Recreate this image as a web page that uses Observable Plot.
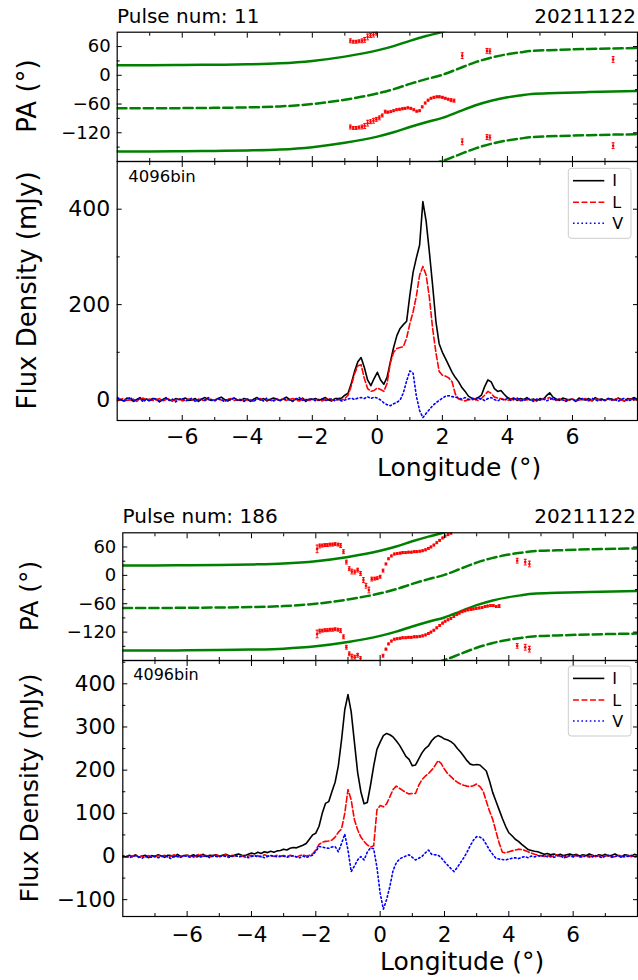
<!DOCTYPE html>
<html><head><meta charset="utf-8">
<script src="https://cdn.jsdelivr.net/npm/d3@7"></script>
<script src="https://cdn.jsdelivr.net/npm/@observablehq/plot@0.6"></script>
<style>
body{margin:0;background:#fff;}
#wrap{position:relative;width:638px;height:980px;overflow:hidden;background:#fff;font-family:"DejaVu Sans",sans-serif;}
#wrap > svg{position:absolute;left:0;}
</style></head><body><div id="wrap"></div>
<script>
// ---------------- data ----------------
const longitude = [
-8,-7.9,-7.8,-7.7,-7.6,-7.5,-7.4,-7.3,-7.2,-7.1,
-7,-6.9,-6.8,-6.7,-6.6,-6.5,-6.4,-6.3,-6.2,-6.1,
-6,-5.9,-5.8,-5.7,-5.6,-5.5,-5.4,-5.3,-5.2,-5.1,
-5,-4.9,-4.8,-4.7,-4.6,-4.5,-4.4,-4.3,-4.2,-4.1,
-4,-3.9,-3.8,-3.7,-3.6,-3.5,-3.4,-3.3,-3.2,-3.1,
-3,-2.9,-2.8,-2.7,-2.6,-2.5,-2.4,-2.3,-2.2,-2.1,
-2,-1.9,-1.8,-1.7,-1.6,-1.5,-1.4,-1.3,-1.2,-1.1,
-1,-0.9,-0.8,-0.7,-0.6,-0.5,-0.4,-0.3,-0.2,-0.1,
0,0.1,0.2,0.3,0.4,0.5,0.6,0.7,0.8,0.9,
1,1.1,1.2,1.3,1.4,1.5,1.6,1.7,1.8,1.9,
2,2.1,2.2,2.3,2.4,2.5,2.6,2.7,2.8,2.9,
3,3.1,3.2,3.3,3.4,3.5,3.6,3.7,3.8,3.9,
4,4.1,4.2,4.3,4.4,4.5,4.6,4.7,4.8,4.9,
5,5.1,5.2,5.3,5.4,5.5,5.6,5.7,5.8,5.9,
6,6.1,6.2,6.3,6.4,6.5,6.6,6.7,6.8,6.9,
7,7.1,7.2,7.3,7.4,7.5,7.6,7.7,7.8,7.9,
8];

// Pulse 11 profiles (mJy)
const p11_I = [
3,1,-2,4,2,-3,1,5,0,2,
-1,3,2,-4,1,4,0,-2,3,1,
2,4,-1,0,3,-3,2,5,1,-1,
0,3,6,1,-2,2,4,0,-1,3,
1,-3,2,5,0,3,-2,1,4,2,
-1,2,6,1,-2,3,0,4,-3,2,
1,3,-1,2,5,0,-2,3,3,4,
10,14,35,60,80,89,68,42,30,45,
58,42,33,48,80,110,135,150,158,165,
220,268,298,325,416,375,310,240,165,118,
100,86,72,58,47,38,26,18,8,4,
2,5,10,28,42,38,24,18,20,12,
5,2,4,-1,3,1,5,0,2,-2,
3,1,9,15,6,2,-1,4,2,0,
2,-3,4,1,0,3,-2,5,1,2,
-1,3,2,0,4,1,-2,3,2,5,
1];
const p11_L = [
-2,1,3,-1,0,2,-3,1,4,0,
2,-1,0,3,-2,1,2,-1,0,3,
-2,0,2,1,-3,2,0,-1,3,1,
-1,2,0,-2,1,3,-1,0,2,-2,
1,0,-2,2,3,-1,1,0,-3,2,
0,2,-1,1,3,0,-2,2,1,-1,
2,0,1,-2,1,3,0,-1,1,0,
3,10,30,55,72,74,45,24,18,20,
25,22,18,35,78,100,108,110,112,130,
160,185,218,262,280,262,215,150,100,60,
52,50,46,38,12,2,0,-2,1,0,
2,-1,3,10,18,14,6,4,3,1,
-1,2,0,3,-2,1,0,2,-1,1,
0,2,3,5,1,-1,2,0,-2,1,
2,-1,0,1,3,-2,0,2,1,-1,
0,2,-1,1,3,0,-2,1,2,0,
1];
const p11_V = [
5,2,-3,1,6,-2,0,3,-4,2,
-3,4,1,-2,0,5,-1,2,-4,1,
3,-2,0,4,-3,1,2,-1,5,0,
-2,3,1,-4,2,0,4,-1,1,-3,
2,0,-3,3,1,-2,4,0,-1,2,
-2,3,1,0,-3,2,5,-1,1,0,
3,-2,1,2,-1,0,3,-2,2,-2,
0,2,4,1,4,5,3,7,3,6,
4,0,-6,-10,-12,-8,-5,0,15,40,
61,56,8,-22,-37,-28,-20,-12,-6,-1,
4,8,9,7,6,4,2,5,1,3,
0,4,2,-1,3,5,1,-2,2,0,
3,-1,2,4,0,-2,3,1,-3,2,
0,3,-2,1,4,-1,2,0,-3,1,
2,-2,0,3,1,-1,4,0,-2,2,
-1,3,0,2,-3,1,4,-2,0,3,
1];

// Pulse 186 profiles (mJy)
const p186_I = [
2,-1,3,0,4,-2,1,3,-3,2,
0,4,1,-2,3,2,-1,5,0,2,
3,1,4,-1,2,5,0,3,2,4,
1,3,5,2,0,4,6,3,2,5,
8,6,10,7,11,9,12,10,13,14,
17,15,19,21,20,23,26,30,40,50,
54,70,100,123,127,150,172,210,270,340,
375,335,265,195,150,122,125,165,210,248,
265,280,285,282,277,268,258,245,232,225,
210,212,226,240,250,256,268,276,280,277,
272,270,266,260,250,242,232,222,214,212,
213,212,205,198,175,148,128,108,88,70,
55,48,40,35,28,22,16,14,12,11,
8,5,7,4,6,3,5,2,4,6,
3,5,1,4,2,6,3,0,4,2,
5,1,3,6,2,-1,4,3,0,5,
3];
const p186_L = [
1,-2,2,0,3,-1,1,-3,2,0,
-1,2,0,3,-2,1,4,0,-1,2,
3,1,-2,2,6,0,3,-1,2,4,
0,2,4,-1,3,1,0,2,-2,1,
3,0,2,-1,4,1,2,0,3,1,
2,0,3,1,-1,2,4,1,3,6,
15,28,33,35,36,38,45,56,64,100,
155,131,85,62,45,35,27,22,25,108,
118,115,122,138,155,163,158,153,148,145,
146,146,165,178,186,192,200,210,222,215,
202,192,185,178,172,168,165,163,162,164,
168,162,152,128,105,86,58,31,10,8,
11,13,15,17,16,14,11,8,5,3,
2,0,3,-1,2,4,0,1,-2,2,
0,3,-1,2,1,-2,3,0,2,-1,
1,2,-2,0,3,1,-1,2,0,1,
2];
const p186_V = [
-2,1,-3,0,2,-1,-4,1,0,-2,
1,-3,0,2,-1,-5,1,0,-2,2,
0,-2,1,3,-1,0,2,-3,1,0,
-1,2,0,-2,1,3,-1,0,2,-3,
0,2,-1,1,-3,0,2,1,-1,0,
1,-2,0,2,-1,-3,1,-2,0,3,
12,23,22,20,19,22,23,11,30,52,
15,-35,-22,-8,0,-8,10,20,18,-25,
-85,-122,-100,-70,-33,-15,-6,-2,1,4,
-2,-8,-4,0,8,15,5,4,3,-3,
-12,-20,-28,-35,-25,-14,-3,10,25,38,
46,45,40,28,15,5,-4,-6,-7,-8,
-6,-4,-3,-5,-2,0,-3,1,-1,2,
0,3,-1,2,-2,1,3,-4,0,2,
-1,2,0,-2,3,1,-1,2,0,-3,
1,3,-1,0,2,-2,1,0,3,-1,
0];

// RVM-style PA model curves (deg)
const rvmLon     = [-8,-7,-6,-5,-4,-3,-2,-1,0,0.5,1,1.5,2,2.5,3,3.5,4,4.4,4.75,5.5,6.5,8];
const rvmSolidA  = [21,21,21.5,22,23,25,30,39,52,61,72,82,91,104,117,127,134,138,141,143,145,147];
const rvmDashedA = [-69,-69,-68.5,-68,-67,-65,-60,-51,-38,-29,-18,-8,1,14,27,37,44,48,51,53,55,57];
const rvmSolidB  = [-159,-159,-158.5,-158,-157,-155,-150,-141,-128,-119,-108,-98,-89,-76,-63,-53,-46,-42,-39,-37,-35,-33];
const rvmDashedB = [-249,-249,-248.5,-248,-247,-245,-240,-231,-218,-209,-198,-188,-179,-166,-153,-143,-136,-132,-129,-127,-125,-123];

// Measured PA (deg) with errors
const p11_paLon = [-0.83,-0.74,-0.65,-0.56,-0.47,-0.39,-0.30,-0.21,-0.12,-0.03,0.06,0.15,0.24,0.32,0.41,0.50,0.59,0.68,0.77,0.85,0.94,1.03,1.12,1.21,1.30,1.38,1.47,1.56,1.65,1.74,1.83,1.91,2.00,2.09,2.18,2.27,2.36,2.61,3.37,3.46,7.25];
const p11_paVal = [-108,-110,-110,-109,-108,-106,-100,-97,-95,-92,-89,-84,-76,-77,-76,-74,-72,-71,-70,-69,-68,-69,-72,-75,-74,-66,-58,-52,-48,-46,-45,-45,-46,-48,-50,-52,-53,41,51,50,33];
const p11_paErr = [4,3,3,3,4,5,6,4,5,4,4,3,3,2,2,2,2,2,2,2,2,2,2,2,2,2,2,2,2,2,2,2,2,2,2,3,3,6,5,5,6];

const p186_paLon = [-1.96,-1.88,-1.80,-1.72,-1.64,-1.56,-1.48,-1.40,-1.31,-1.23,-1.14,-1.05,-0.96,-0.88,-0.79,-0.70,-0.61,-0.52,-0.44,-0.35,-0.26,-0.17,-0.09,0.00,0.09,0.18,0.26,0.35,0.44,0.53,0.62,0.70,0.79,0.88,0.97,1.06,1.14,1.23,1.32,1.41,1.50,1.58,1.67,1.76,1.85,1.94,2.02,2.11,2.20,2.29,2.38,2.46,2.55,2.64,2.73,2.82,2.90,2.99,3.08,3.17,3.26,3.34,3.43,3.52,3.61,3.70,4.26,4.51,4.64];
const p186_paVal = [56,62,63,64,64,65,65,66,65,63,50,28,14,8,7,11,4,-10,-22,-31,-8,-7,-6,-3,10,24,35,41,45,46,47,48,48,49,49,50,50,51,52,54,57,60,64,69,74,79,83,86,89,93,97,100,103,105,107,108,109,110,111,112,114,115,116,116,114,115,31,28,24];
const p186_paErr = [8,4,3,3,3,3,3,3,3,4,4,4,4,5,4,4,4,5,5,6,4,3,3,3,3,2,2,2,2,2,2,2,2,2,2,2,2,2,2,2,2,2,2,2,2,2,2,2,2,2,2,2,2,2,2,2,2,2,2,2,2,2,2,2,2,3,5,6,6];

// axis ticks
const xMajor = [-6,-4,-2,0,2,4,6];
const xMinor = [-7,-5,-3,-1,1,3,5,7];
const paMajor = [-120,-60,0,60];
const paMinor = [-150,-90,-30,30];
const flux11Major = [0,200,400];
const flux11Minor = [100,300];
const flux186Major = [-100,0,100,200,300,400];
const flux186Minor = [-50,50,150,250,350,450];

// ---------------- drawing ----------------
const wrap = document.getElementById("wrap");
const minus = d => (d < 0 ? "\u2212" + Math.abs(d) : String(d));
const blank = () => "";
const GREEN = "#008000";

function tickAxes(yMajor, yMinor) {
  const m = [];
  for (const a of ["left", "right"]) {
    m.push(Plot.axisY({anchor: a, ticks: yMajor, tickSize: -5, tickFormat: blank, label: null, strokeWidth: 1}));
    m.push(Plot.axisY({anchor: a, ticks: yMinor, tickSize: -3, tickFormat: blank, label: null, strokeWidth: 1}));
  }
  for (const a of ["top", "bottom"]) {
    m.push(Plot.axisX({anchor: a, ticks: xMajor, tickSize: -5, tickFormat: blank, label: null, strokeWidth: 1}));
    m.push(Plot.axisX({anchor: a, ticks: xMinor, tickSize: -3, tickFormat: blank, label: null, strokeWidth: 1}));
  }
  return m;
}

function place(svg, top) {
  svg.style.top = top + "px";
  wrap.appendChild(svg);
}

function paPanel({top, height, mt, mb, ml, lon, val, err}) {
  const rows = [];
  lon.forEach((x, i) => {
    for (const k of [-180, 0, 180]) {
      const y = val[i] + k;
      if (y >= -180 && y <= 90) rows.push({lon: x, pa: y, err: err[i]});
    }
  });
  const curves = [
    {y: rvmSolidA, dash: null}, {y: rvmDashedA, dash: "9.25,4"},
    {y: rvmSolidB, dash: null}, {y: rvmDashedB, dash: "9.25,4"}
  ];
  const cap = 0.045;
  const svg = Plot.plot({
    width: 638, height, marginTop: mt, marginBottom: mb, marginLeft: ml, marginRight: 1,
    style: {fontFamily: "DejaVu Sans", background: "none", color: "black", overflow: "visible"},
    x: {domain: [-8, 8]},
    y: {domain: [-180, 90]},
    marks: [
      ...curves.map(c => Plot.line(rvmLon.map((x, i) => ({lon: x, pa: c.y[i]})),
        {x: "lon", y: "pa", stroke: GREEN, strokeWidth: 2.5, strokeDasharray: c.dash, curve: "monotone-x", clip: true})),
      Plot.ruleX(rows, {x: "lon", y1: d => d.pa - d.err, y2: d => d.pa + d.err, stroke: "red", strokeWidth: 1, clip: true}),
      Plot.link(rows, {x1: d => d.lon - cap, x2: d => d.lon + cap, y1: d => d.pa + d.err, y2: d => d.pa + d.err, stroke: "red", strokeWidth: 1, clip: true}),
      Plot.link(rows, {x1: d => d.lon - cap, x2: d => d.lon + cap, y1: d => d.pa - d.err, y2: d => d.pa - d.err, stroke: "red", strokeWidth: 1, clip: true}),
      Plot.dot(rows, {x: "lon", y: "pa", r: 1.3, fill: "red", stroke: "none", clip: true}),
      Plot.frame({stroke: "black", strokeWidth: 1.2}),
      Plot.axisY({anchor: "left", ticks: paMajor, tickSize: 0, tickPadding: 6.5, tickFormat: minus, fontSize: 18, label: null}),
      ...tickAxes(paMajor, paMinor)
    ]
  });
  place(svg, top);
}

function fluxPanel({top, height, mt, mb, ml, yDomain, yMajor, yMinor, I, L, V, xFont, xPad, yFont}) {
  const mk = arr => arr.map((v, i) => ({lon: longitude[i], v})).filter(d => d.lon !== undefined);
  const svg = Plot.plot({
    width: 638, height, marginTop: mt, marginBottom: mb, marginLeft: ml, marginRight: 1,
    style: {fontFamily: "DejaVu Sans", background: "none", color: "black", overflow: "visible"},
    x: {domain: [-8, 8]},
    y: {domain: yDomain},
    marks: [
      Plot.line(mk(I), {x: "lon", y: "v", stroke: "black", strokeWidth: 1.6, clip: true}),
      Plot.line(mk(L), {x: "lon", y: "v", stroke: "red", strokeWidth: 1.6, strokeDasharray: "5.9,2.6", clip: true}),
      Plot.line(mk(V), {x: "lon", y: "v", stroke: "blue", strokeWidth: 1.6, strokeDasharray: "1.6,2.6", clip: true}),
      Plot.frame({stroke: "black", strokeWidth: 1.2}),
      Plot.axisY({anchor: "left", ticks: yMajor, tickSize: 0, tickPadding: 7, tickFormat: minus, fontSize: yFont, label: null}),
      Plot.axisX({anchor: "bottom", ticks: xMajor, tickSize: 0, tickPadding: xPad, tickFormat: minus, fontSize: xFont, label: null}),
      ...tickAxes(yMajor, yMinor)
    ]
  });
  place(svg, top);
}

// Pulse 11
paPanel({top: 0, height: 170, mt: 31.7, mb: 9, ml: 116.7, lon: p11_paLon, val: p11_paVal, err: p11_paErr});
fluxPanel({top: 150, height: 340, mt: 11, mb: 70, ml: 116.7, yDomain: [-43, 500], yMajor: flux11Major, yMinor: flux11Minor,
  I: p11_I, L: p11_L, V: p11_V, xFont: 22, xPad: 7.5, yFont: 22});
// Pulse 186
paPanel({top: 500, height: 170, mt: 32.3, mb: 10, ml: 122.3, lon: p186_paLon, val: p186_paVal, err: p186_paErr});
fluxPanel({top: 650, height: 330, mt: 10, mb: 64, ml: 122.3, yDomain: [-139, 454], yMajor: flux186Major, yMinor: flux186Minor,
  I: p186_I, L: p186_L, V: p186_V, xFont: 21.5, xPad: 10, yFont: 21.5});

// ---------------- overlay texts & legends ----------------
const ov = d3.select(wrap).append("svg")
  .attr("width", 638).attr("height", 980)
  .style("top", "0px").style("pointer-events", "none")
  .attr("font-family", "DejaVu Sans").attr("fill", "black");

function txt(x, y, s, size, anchor = "start") {
  ov.append("text").attr("x", x).attr("y", y).attr("font-size", size).attr("text-anchor", anchor).text(s);
}
function vtxt(x, y, s, size) {
  ov.append("text").attr("transform", `translate(${x},${y}) rotate(-90)`).attr("font-size", size)
    .attr("text-anchor", "middle").text(s);
}
function legend(x0, y0) {
  ov.append("rect").attr("x", x0).attr("y", y0).attr("width", 62.7).attr("height", 70).attr("rx", 3)
    .attr("fill", "white").attr("fill-opacity", 0.85).attr("stroke", "#cccccc").attr("stroke-width", 1);
  const items = [
    {t: "I", c: "black", d: null, dy: 12.4},
    {t: "L", c: "red", d: "5.9,2.6", dy: 34},
    {t: "V", c: "blue", d: "1.6,2.6", dy: 55}
  ];
  for (const it of items) {
    ov.append("line").attr("x1", x0 + 4.7).attr("x2", x0 + 36).attr("y1", y0 + it.dy).attr("y2", y0 + it.dy)
      .attr("stroke", it.c).attr("stroke-width", 1.6).attr("stroke-dasharray", it.d);
    ov.append("text").attr("x", x0 + 44).attr("y", y0 + it.dy).attr("dy", "0.35em").attr("font-size", 16).text(it.t);
  }
}

// figure 1
txt(117, 22.5, "Pulse num: 11", 20);
txt(636, 22.5, "20211122", 20, "end");
vtxt(36, 96, "PA (\u00b0)", 26);
vtxt(36, 290.5, "Flux Density (mJy)", 26);
txt(128.3, 181.5, "4096bin", 16.5);
txt(377, 476, "Longitude (\u00b0)", 25);
legend(568.3, 168.3);

// figure 2
txt(122.5, 522.5, "Pulse num: 186", 20);
txt(636, 522.5, "20211122", 20, "end");
vtxt(38, 596, "PA (\u00b0)", 25);
vtxt(38, 788, "Flux Density (mJy)", 25);
txt(133.3, 680, "4096bin", 16);
txt(380, 970, "Longitude (\u00b0)", 25);
legend(568.3, 666);
</script>
</body></html>
